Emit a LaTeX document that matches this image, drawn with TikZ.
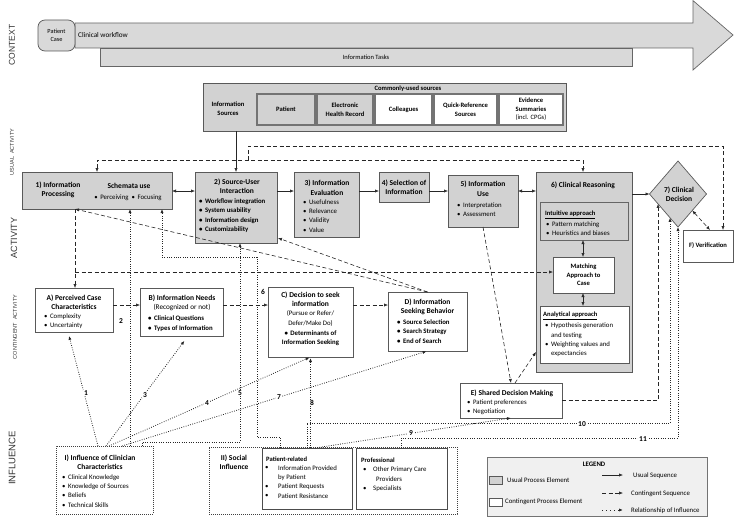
\documentclass[tikz,border=0pt]{standalone}
\usepackage{fontspec}
\setmainfont{Carlito}
\newfontfamily\LabF{Liberation Sans}
\usetikzlibrary{arrows.meta,fit,calc,shapes.geometric}
\newcommand\TitF{\fontsize{7.5}{9.5}\selectfont\bfseries}
\newcommand\BulF{\fontsize{6.8}{9.3}\selectfont}
\newcommand\SubF{\fontsize{6.6}{8.6}\selectfont\bfseries}
\newcommand\bul{\textbullet\hspace{2.5pt}}
\begin{document}
\begin{tikzpicture}[x=1pt,y=-1pt, font=\BulF,
  usual/.style={draw=black!65, fill=gray!35, line width=0.7pt, inner sep=0pt, outer sep=0pt},
  cont/.style={draw=black!65, fill=white, line width=0.7pt, inner sep=0pt, outer sep=0pt},
  srcb/.style={draw=black!55, line width=1.1pt, inner sep=0pt, outer sep=0pt},
  infbox/.style={draw=black!75, line width=0.7pt, dash pattern=on 0.7pt off 1.3pt, inner sep=0pt, outer sep=0pt},
  seq/.style={-{Latex[length=4pt,width=3.2pt]}, line width=0.6pt, draw=black!85},
  dseq/.style={{Latex[length=4pt,width=3.2pt]}-{Latex[length=4pt,width=3.2pt]}, line width=0.6pt, draw=black!85},
  cseq/.style={seq, dash pattern=on 4pt off 2.5pt},
  dcseq/.style={dseq, dash pattern=on 4pt off 2.5pt},
  infl/.style={seq, dash pattern=on 0.8pt off 1.5pt, line width=0.8pt},
  num/.style={font=\fontsize{7.5}{8}\selectfont\bfseries, fill=white, inner sep=0.8pt},
  tx/.style={inner sep=0pt, align=left, anchor=west},
  tc/.style={inner sep=0pt, align=center},
]
\useasboundingbox (0,0) rectangle (736,519);

% ---------- left labels
\node[rotate=90, font=\LabF\fontsize{8.5}{9}\selectfont, text=black!80] (lctx) at (12,45) {CONTEXT};
\node[rotate=90, font=\LabF\fontsize{5.5}{6}\selectfont, text=black!80] (lua) at (12,152) {USUAL\ \ ACTIVITY};
\node[rotate=90, font=\LabF\fontsize{9}{9}\selectfont, text=black!80] (lact) at (14,238) {ACTIVITY};
\node[rotate=90, font=\LabF\fontsize{5.5}{6}\selectfont, text=black!80] (lca) at (15,327) {CONTINGENT\ \ ACTIVITY};
\node[rotate=90, font=\LabF\fontsize{9.5}{10}\selectfont, text=black!80] (linf) at (12,458) {INFLUENCE};

% ---------- context
\draw[draw=black!60, fill=gray!30, line width=0.7pt] (75,23) -- (693,23) -- (693,0.6) -- (733,35) -- (693,70) -- (693,48) -- (75,48) -- cycle;
\node[usual, fill=gray!30, draw=black!60, fit={(100,48) (632,66)}] (tasks) {};
\node[tc, font=\fontsize{6.5}{7}\selectfont] at (tasks.center) {Information Tasks};
\node[usual, rounded corners=7pt, fill=gray!30, fit={(38,20) (75,51)}] (case) {};
\node[tc, font=\fontsize{6.3}{7.5}\selectfont] at (case.center) {Patient\\Case};
\node[tx, font=\fontsize{7.2}{8}\selectfont] (cw) at (78,35) {Clinical workflow};

% ---------- information sources
\node[usual, fit={(203,83) (566,131)}] (src) {};
\node[tc, font=\SubF] at (408,88.5) {Commonly-used sources};
\node[tc, font=\SubF] at (228,109) {Information\\Sources};
\node[srcb, fill=gray!35, fit={(257,94) (315,125)}] (s1) {};
\node[tc, font=\SubF] at (s1.center) {Patient};
\node[srcb, fill=gray!35, fit={(317,94) (373,125)}] (s2) {};
\node[tc, font=\SubF] at (s2.center) {Electronic\\Health Record};
\node[srcb, fill=white, fit={(375,94) (432,125)}] (s3) {};
\node[tc, font=\SubF] at (s3.center) {Colleagues};
\node[srcb, fill=white, fit={(434,94) (497,125)}] (s4) {};
\node[tc, font=\SubF] at (s4.center) {Quick-Reference\\Sources};
\node[srcb, fill=white, fit={(499,94) (563,125)}] (s5) {};
\node[tc, font=\SubF] at (s5.center) {Evidence\\Summaries\\{\mdseries (incl. CPGs)}};

% ---------- usual activity row
\node[usual, fit={(22,172) (172,209)}] (p1) {};
\node[tc, font=\TitF] at (58,190) {1) Information\\Processing};
\node[tc, font=\TitF] at (129,186) {Schemata use};
\node[tc] at (128,198) {\bul Perceiving\ \ \bul Focusing};

\node[usual, fit={(195,172) (277,243)}] (p2) {};
\node[tc, font=\TitF] at (237,186) {2) Source-User\\Interaction};
\node[tx, font=\BulF\bfseries] at (199,215.5) {\bul Workflow integration\\\bul System usability\\\bul Information design\\\bul Customizability};

\node[usual, fit={(294,172) (359,237)}] (p3) {};
\node[tc, font=\TitF] at (327,187.5) {3) Information\\Evaluation};
\node[tx] at (303,216) {\bul Usefulness\\\bul Relevance\\\bul Validity\\\bul Value};

\node[usual, fit={(379,172) (429,202)}] (p4) {};
\node[tc, font=\TitF] at (p4.center) {4) Selection of\\Information};

\node[usual, fit={(448,175) (518,227)}] (p5) {};
\node[tc, font=\TitF] at (483,188.5) {5) Information\\Use};
\node[tx] at (457,210) {\bul Interpretation\\\bul Assessment};

\node[usual, fit={(536,172) (632,372)}] (p6) {};
\node[tc, font=\TitF] at (583,185) {6) Clinical Reasoning};
\node[usual, draw=black!60, line width=1pt, fit={(540,202) (628,240)}] (intu) {};
\node[tx, font=\SubF] at (545,215) {\underline{Intuitive approach}};
\node[tx] at (546,228.5) {\bul Pattern matching\\\bul Heuristics and biases};
\node[cont, line width=0.9pt, fit={(553,257) (614,293)}] (match) {};
\node[tc, font=\SubF] at (match.center) {Matching\\Approach to\\Case};
\node[cont, line width=0.9pt, fit={(540,306) (629,363)}] (ana) {};
\node[tx, font=\SubF] at (543,316) {\underline{Analytical approach}};
\node[tx] at (545,340) {\bul Hypothesis generation\\\hspace{6pt}and testing\\\bul Weighting values and\\\hspace{6pt}expectancies};

\node[usual, diamond, minimum width=57pt, minimum height=66pt, aspect=0.86] (d7) at (678,194) {};
\node[tc, font=\TitF] at (679,194) {7) Clinical\\Decision};
\node[cont, fit={(683,230) (733,262)}] (F) {};
\node[tc, font=\SubF] at (F.center) {F) Verification};

% ---------- contingent row
\node[cont, fit={(35,288) (113,332)}] (A) {};
\node[tc, font=\TitF] at (74,302) {A) Perceived Case\\Characteristics};
\node[tx] at (44,321.5) {\bul Complexity\\\bul Uncertainty};

\node[cont, fit={(140,288) (223,336)}] (B) {};
\node[tc, font=\TitF] at (182,298) {B) Information Needs};
\node[tc, font=\fontsize{7.2}{8}\selectfont] at (182,307.5) {(Recognized or not)};
\node[tx, font=\BulF\bfseries] at (148,323.5) {\bul Clinical Questions\\\bul Types of Information};

\node[cont, fit={(268,287) (353,357)}] (C) {};
\node[tc, font=\TitF] at (310.5,299) {C) Decision to seek\\information};
\node[tc, font=\fontsize{6.8}{10}\selectfont] at (310.5,318.5) {(Pursue or Refer/\\Defer/Make Do)};
\node[tc, font=\BulF\bfseries] at (310.5,338) {\bul Determinants of\\Information Seeking};

\node[cont, fit={(388,292) (467,351)}] (D) {};
\node[tc, font=\TitF] at (427.5,307) {D) Information\\Seeking Behavior};
\node[tx, font=\BulF\bfseries] at (397,331.5) {\bul Source Selection\\\bul Search Strategy\\\bul End of Search};

\node[cont, fit={(460,383) (562,418)}] (E) {};
\node[tc, font=\TitF] at (512,393) {E) Shared Decision Making};
\node[tx] at (467,407.5) {\bul Patient preferences\\\bul Negotiation};

% ---------- influence
\node[infbox, fit={(56,446) (153,514)}] (I) {};
\node[tc, font=\TitF] at (100,462) {I) Influence of Clinician\\Characteristics};
\node[tx] at (62,491) {\bul Clinical Knowledge\\\bul Knowledge of Sources\\\bul Beliefs\\\bul Technical Skills};

\node[infbox, fit={(209,447) (457,514)}] (II) {};
\node[tc, font=\TitF] at (234,462) {II) Social\\Influence};
\node[draw=black!70, line width=0.8pt, fill=white, inner sep=0pt, outer sep=0pt, fit={(262,448) (352,509)}] (pr) {};
\node[tx, font=\SubF] at (266,459) {Patient-related};
\node[tx] (b1) at (265,468) {\textbullet};
\node[tx] (b2) at (265,487) {\textbullet};
\node[tx] (b3) at (265,496.3) {\textbullet};
\node[tx] at (278,482) {Information Provided\\by Patient\\Patient Requests\\Patient Resistance};
\node[draw=black!70, line width=0.8pt, fill=white, inner sep=0pt, outer sep=0pt, fit={(356,448) (447,509)}] (prof) {};
\node[tx, font=\SubF] at (361,460) {Professional};
\node[tx] (b4) at (363,470) {\textbullet};
\node[tx] (b5) at (363,488.6) {\textbullet};
\node[tx] at (373,479.3) {Other Primary Care\\\hspace{3pt}Providers\\Specialists};

% ---------- legend
\node[draw=black!55, fill=gray!12, line width=0.8pt, inner sep=0pt, fit={(487,457) (707,516)}] (leg) {};
\node[tc, font=\fontsize{6.8}{7}\selectfont\bfseries] at (594,464) {LEGEND};
\node[usual, fit={(489,476) (502,484)}] (lg1) {};
\node[tx] at (507,480) {Usual Process Element};
\node[cont, fit={(489,498) (502,506)}] (lg2) {};
\node[tx] at (505,502) {Contingent Process Element};
\coordinate (la1) at (602,475); \coordinate (lb1) at (623,475);
\coordinate (la2) at (602,493); \coordinate (lb2) at (623,493);
\coordinate (la3) at (602,510); \coordinate (lb3) at (623,510);
\draw[seq] (la1) -- (lb1);
\draw[cseq] (la2) -- (lb2);
\draw[seq, dash pattern=on 1pt off 3pt, line width=0.8pt] (la3) -- (lb3);
\node[tx] at (633,476) {Usual Sequence};
\node[tx] at (631,493.5) {Contingent Sequence};
\node[tx] at (631,510.5) {Relationship of Influence};

% ---------- usual sequence
\draw[dseq] (p1.east |- 0,191) -- (p2.west |- 0,191);
\draw[seq] (p2.east |- 0,191) -- (p3.west |- 0,191);
\draw[seq] (p3.east |- 0,191) -- (p4.west |- 0,191);
\draw[seq] (p4.east |- 0,191) -- (p5.west |- 0,191);
\draw[dseq] (p5.east |- 0,191) -- (p6.west |- 0,191);
\draw[seq] (p6.east |- d7.west) -- (d7.west);
\draw[seq] (src.south -| 236,0) -- (p2.north -| 236,0);
\draw[dseq] (intu.south -| 583,0) -- (match.north -| 583,0);
\draw[dseq] (match.south -| 583,0) -- (ana.north -| 583,0);

% ---------- contingent sequence
\coordinate (jn) at (248,160);
\draw[dcseq] (p1.north -| 97,0) -- (97,160) -- (583,160) -- (p6.north -| 583,0);
\draw[cseq] (jn) -- (248,146) -- (723,146) -- (F.north -| 723,0);
\draw[dcseq] ($(d7.east)!0.5!(d7.south)$) -- (F.north -| 710,0);
\draw[cseq] (p5.south) -- (E.north);
\draw[cseq] ($(E.north)+(4,0)$) -- (p6.west |- 0,352);
\draw[cseq] (E.east) -| ($(d7.west)!0.3!(d7.south)$);
\draw[cseq] (D.north) -- (p1.south -| 75,0);
\draw[cseq] (D.north) -- ($(p2.south east)+(1,-5)$);
\draw[cseq] (p1.south -| 75,0) -- (A.north -| 75,0);
\coordinate (br) at (75,272);
\draw[cseq] (br) -- (match.west |- br);
\draw[cseq] (A.east |- 0,305) -- (B.west |- 0,305);
\draw[cseq] (B.east |- 0,305) -- (C.west |- 0,305);
\draw[cseq] (C.east |- 0,305) -- (D.west |- 0,305);

% ---------- influence relations
\draw[infl, shorten >=4pt] (I.north -| 98,0) -- (A.south -| 68,0);
\draw[infl] (I.north -| 130,0) -- (p1.south -| 130,0);
\draw[infl, shorten >=6pt] (I.north -| 106,0) -- (B.south -| 188,0);
\draw[infl, shorten >=1pt] (I.north -| 109,0) -- (C.south);
\draw[infl] (I.north -| 142,0) |- (240,442) -- (p2.south -| 240,0);
\draw[infl] (pr.north -| 280,0) -- (280,437) -- (257,437) -- (257,257) -- (162,257) -- (p1.south -| 162,0);
\draw[infl, shorten >=1pt] (I.north -| 122,0) -- (D.south);
\draw[infl, shorten >=1pt] (pr.north -| C.south) -- (C.south);
\draw[infl] ($(pr.north)+(8,0)$) -- (E.south);
\draw[infl] (pr.north) -- (307,423) -| ($(d7.west)!0.72!(d7.south)$);
\draw[infl] (prof.north) -- (401.5,438) -| (d7.south);

\node[num] (n1) at (86,393) {1};
\node[num] (n2) at (121,321) {2};
\node[num] (n3) at (145,395) {3};
\node[num] (n4) at (207,403) {4};
\node[num] (n5) at (240,393) {5};
\node[num] (n6) at (263,292) {6};
\node[num] (n7) at (279,397) {7};
\node[num] (n8) at (312,403) {8};
\node[num] (n9) at (411,433) {9};
\node[num] (n10) at (582,424) {10};
\node[num] (n11) at (643,439) {11};
\end{tikzpicture}
\end{document}
